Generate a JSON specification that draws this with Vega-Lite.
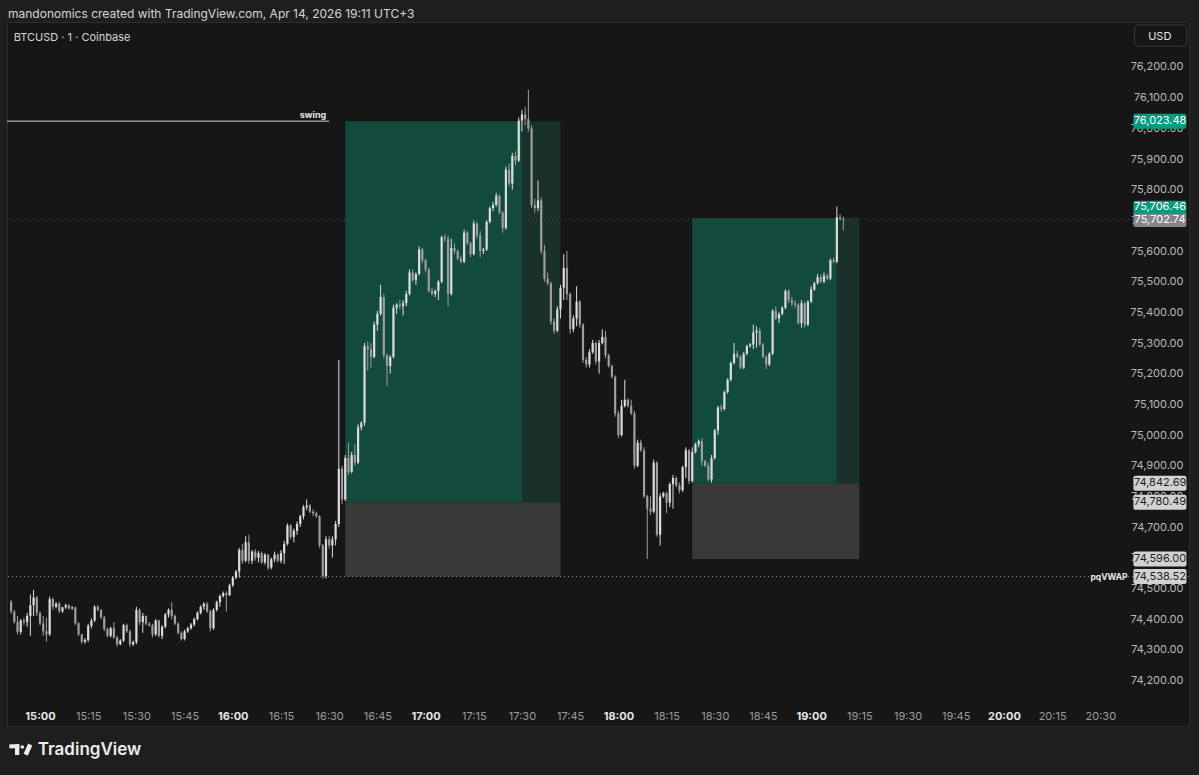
{
  "$schema": "https://vega.github.io/schema/vega-lite/v6.json",
  "width": 1182,
  "height": 704,
  "autosize": {"type": "none"},
  "padding": {"left": 7, "top": 22, "right": 10, "bottom": 49},
  "background": "#1e1e1e",
  "config": {
    "view": {"fill": "#161616", "stroke": "#2c2c2c", "strokeWidth": 1},
    "font": "Inter",
    "text": {"font": "Inter"},
    "axis": {"labelOverlap": false, "labelSeparation": 0},
    "scale": {"continuousPadding": 0}
  },
  "resolve": {"axis": {"y": "independent", "x": "independent"}},
  "title": {"text": "mandonomics created with TradingView.com, Apr 14, 2026 19:11 UTC+3", "anchor": "start", "frame": "group", "offset": 1, "dx": 1, "fontSize": 12, "fontWeight": "normal", "color": "#d6d6d6", "font": "Inter"},
  "datasets": {
    "candles": [
      {"t":-9,"o":74456,"h":74462,"l":74418,"c":74424},
      {"t":-8,"o":74424,"h":74430,"l":74385,"c":74391},
      {"t":-7,"o":74391,"h":74410,"l":74350,"c":74358},
      {"t":-6,"o":74358,"h":74400,"l":74350,"c":74395},
      {"t":-5,"o":74395,"h":74405,"l":74380,"c":74390},
      {"t":-4,"o":74390,"h":74420,"l":74375,"c":74410},
      {"t":-3,"o":74410,"h":74480,"l":74345,"c":74445},
      {"t":-2,"o":74445,"h":74495,"l":74410,"c":74470},
      {"t":-1,"o":74470,"h":74475,"l":74410,"c":74420},
      {"t":0,"o":74420,"h":74425,"l":74380,"c":74386},
      {"t":1,"o":74386,"h":74410,"l":74345,"c":74360},
      {"t":2,"o":74360,"h":74405,"l":74326,"c":74350},
      {"t":3,"o":74350,"h":74473,"l":74345,"c":74465},
      {"t":4,"o":74465,"h":74470,"l":74430,"c":74440},
      {"t":5,"o":74440,"h":74455,"l":74435,"c":74450},
      {"t":6,"o":74450,"h":74456,"l":74420,"c":74425},
      {"t":7,"o":74425,"h":74440,"l":74420,"c":74438},
      {"t":8,"o":74438,"h":74450,"l":74433,"c":74445},
      {"t":9,"o":74445,"h":74448,"l":74430,"c":74435},
      {"t":10,"o":74435,"h":74442,"l":74430,"c":74438},
      {"t":11,"o":74438,"h":74440,"l":74380,"c":74386},
      {"t":12,"o":74386,"h":74390,"l":74345,"c":74350},
      {"t":13,"o":74350,"h":74352,"l":74320,"c":74326},
      {"t":14,"o":74326,"h":74338,"l":74320,"c":74332},
      {"t":15,"o":74332,"h":74385,"l":74325,"c":74378},
      {"t":16,"o":74378,"h":74402,"l":74370,"c":74395},
      {"t":17,"o":74395,"h":74445,"l":74390,"c":74440},
      {"t":18,"o":74440,"h":74445,"l":74425,"c":74430},
      {"t":19,"o":74430,"h":74432,"l":74400,"c":74405},
      {"t":20,"o":74405,"h":74410,"l":74360,"c":74368},
      {"t":21,"o":74368,"h":74372,"l":74340,"c":74345},
      {"t":22,"o":74345,"h":74375,"l":74340,"c":74370},
      {"t":23,"o":74370,"h":74390,"l":74335,"c":74340},
      {"t":24,"o":74340,"h":74345,"l":74310,"c":74318},
      {"t":25,"o":74318,"h":74335,"l":74315,"c":74330},
      {"t":26,"o":74330,"h":74385,"l":74325,"c":74380},
      {"t":27,"o":74380,"h":74385,"l":74355,"c":74360},
      {"t":28,"o":74360,"h":74365,"l":74310,"c":74318},
      {"t":29,"o":74318,"h":74330,"l":74312,"c":74325},
      {"t":30,"o":74325,"h":74440,"l":74318,"c":74430},
      {"t":31,"o":74430,"h":74435,"l":74380,"c":74390},
      {"t":32,"o":74390,"h":74420,"l":74355,"c":74410},
      {"t":33,"o":74410,"h":74412,"l":74380,"c":74385},
      {"t":34,"o":74385,"h":74390,"l":74375,"c":74380},
      {"t":35,"o":74380,"h":74385,"l":74340,"c":74350},
      {"t":36,"o":74350,"h":74400,"l":74345,"c":74395},
      {"t":37,"o":74395,"h":74398,"l":74340,"c":74345},
      {"t":38,"o":74345,"h":74380,"l":74335,"c":74375},
      {"t":39,"o":74375,"h":74420,"l":74370,"c":74415},
      {"t":40,"o":74415,"h":74435,"l":74405,"c":74430},
      {"t":41,"o":74430,"h":74455,"l":74400,"c":74410},
      {"t":42,"o":74410,"h":74415,"l":74380,"c":74385},
      {"t":43,"o":74385,"h":74390,"l":74350,"c":74355},
      {"t":44,"o":74355,"h":74360,"l":74330,"c":74335},
      {"t":45,"o":74335,"h":74365,"l":74330,"c":74360},
      {"t":46,"o":74360,"h":74375,"l":74355,"c":74370},
      {"t":47,"o":74370,"h":74387,"l":74365,"c":74382},
      {"t":48,"o":74382,"h":74405,"l":74376,"c":74400},
      {"t":49,"o":74400,"h":74425,"l":74395,"c":74420},
      {"t":50,"o":74420,"h":74445,"l":74415,"c":74440},
      {"t":51,"o":74440,"h":74455,"l":74430,"c":74450},
      {"t":52,"o":74450,"h":74455,"l":74420,"c":74425},
      {"t":53,"o":74425,"h":74430,"l":74360,"c":74370},
      {"t":54,"o":74370,"h":74435,"l":74365,"c":74430},
      {"t":55,"o":74430,"h":74460,"l":74425,"c":74455},
      {"t":56,"o":74455,"h":74480,"l":74440,"c":74475},
      {"t":57,"o":74475,"h":74490,"l":74470,"c":74485},
      {"t":58,"o":74485,"h":74490,"l":74425,"c":74478},
      {"t":59,"o":74478,"h":74515,"l":74475,"c":74510},
      {"t":60,"o":74510,"h":74540,"l":74505,"c":74535},
      {"t":61,"o":74535,"h":74560,"l":74530,"c":74555},
      {"t":62,"o":74555,"h":74632,"l":74535,"c":74625},
      {"t":63,"o":74625,"h":74645,"l":74580,"c":74590},
      {"t":64,"o":74590,"h":74670,"l":74585,"c":74650},
      {"t":65,"o":74650,"h":74675,"l":74580,"c":74590},
      {"t":66,"o":74590,"h":74625,"l":74580,"c":74620},
      {"t":67,"o":74620,"h":74628,"l":74590,"c":74600},
      {"t":68,"o":74600,"h":74622,"l":74585,"c":74615},
      {"t":69,"o":74615,"h":74620,"l":74580,"c":74585},
      {"t":70,"o":74585,"h":74615,"l":74578,"c":74610},
      {"t":71,"o":74610,"h":74612,"l":74560,"c":74568},
      {"t":72,"o":74568,"h":74600,"l":74562,"c":74595},
      {"t":73,"o":74595,"h":74620,"l":74585,"c":74610},
      {"t":74,"o":74610,"h":74615,"l":74585,"c":74590},
      {"t":75,"o":74590,"h":74625,"l":74582,"c":74615},
      {"t":76,"o":74615,"h":74655,"l":74580,"c":74645},
      {"t":77,"o":74645,"h":74712,"l":74640,"c":74705},
      {"t":78,"o":74705,"h":74710,"l":74660,"c":74668},
      {"t":79,"o":74668,"h":74695,"l":74650,"c":74688},
      {"t":80,"o":74688,"h":74718,"l":74675,"c":74710},
      {"t":81,"o":74710,"h":74740,"l":74700,"c":74735},
      {"t":82,"o":74735,"h":74772,"l":74725,"c":74765},
      {"t":83,"o":74765,"h":74790,"l":74755,"c":74770},
      {"t":84,"o":74770,"h":74775,"l":74745,"c":74750},
      {"t":85,"o":74750,"h":74758,"l":74735,"c":74745},
      {"t":86,"o":74745,"h":74750,"l":74730,"c":74735},
      {"t":87,"o":74735,"h":74738,"l":74632,"c":74640},
      {"t":88,"o":74640,"h":74645,"l":74532,"c":74540},
      {"t":89,"o":74540,"h":74670,"l":74532,"c":74660},
      {"t":90,"o":74660,"h":74670,"l":74630,"c":74640},
      {"t":91,"o":74640,"h":74670,"l":74600,"c":74660},
      {"t":92,"o":74660,"h":74720,"l":74640,"c":74710},
      {"t":93,"o":74710,"h":75245,"l":74700,"c":74890},
      {"t":94,"o":74890,"h":74900,"l":74775,"c":74790},
      {"t":95,"o":74790,"h":74935,"l":74785,"c":74925},
      {"t":96,"o":74925,"h":74975,"l":74870,"c":74880},
      {"t":97,"o":74880,"h":74945,"l":74875,"c":74935},
      {"t":98,"o":74935,"h":74970,"l":74900,"c":74910},
      {"t":99,"o":74910,"h":75035,"l":74905,"c":75025},
      {"t":100,"o":75025,"h":75045,"l":75015,"c":75040},
      {"t":101,"o":75040,"h":75300,"l":75030,"c":75290},
      {"t":102,"o":75290,"h":75305,"l":75210,"c":75280},
      {"t":103,"o":75280,"h":75300,"l":75220,"c":75255},
      {"t":104,"o":75255,"h":75370,"l":75250,"c":75360},
      {"t":105,"o":75360,"h":75405,"l":75340,"c":75395},
      {"t":106,"o":75395,"h":75490,"l":75390,"c":75450},
      {"t":107,"o":75450,"h":75460,"l":75250,"c":75260},
      {"t":108,"o":75260,"h":75265,"l":75160,"c":75225},
      {"t":109,"o":75225,"h":75260,"l":75200,"c":75255},
      {"t":110,"o":75255,"h":75425,"l":75250,"c":75415},
      {"t":111,"o":75415,"h":75430,"l":75395,"c":75425},
      {"t":112,"o":75425,"h":75440,"l":75410,"c":75420},
      {"t":113,"o":75420,"h":75440,"l":75390,"c":75430},
      {"t":114,"o":75430,"h":75470,"l":75420,"c":75460},
      {"t":115,"o":75460,"h":75540,"l":75455,"c":75530},
      {"t":116,"o":75530,"h":75540,"l":75500,"c":75505},
      {"t":117,"o":75505,"h":75530,"l":75490,"c":75525},
      {"t":118,"o":75525,"h":75615,"l":75520,"c":75605},
      {"t":119,"o":75605,"h":75610,"l":75560,"c":75570},
      {"t":120,"o":75570,"h":75575,"l":75530,"c":75540},
      {"t":121,"o":75540,"h":75545,"l":75465,"c":75470},
      {"t":122,"o":75470,"h":75480,"l":75455,"c":75460},
      {"t":123,"o":75460,"h":75475,"l":75450,"c":75470},
      {"t":124,"o":75470,"h":75505,"l":75440,"c":75500},
      {"t":125,"o":75500,"h":75650,"l":75495,"c":75645},
      {"t":126,"o":75645,"h":75655,"l":75630,"c":75640},
      {"t":127,"o":75640,"h":75650,"l":75420,"c":75460},
      {"t":128,"o":75460,"h":75640,"l":75455,"c":75610},
      {"t":129,"o":75610,"h":75625,"l":75590,"c":75600},
      {"t":130,"o":75600,"h":75605,"l":75570,"c":75575},
      {"t":131,"o":75575,"h":75585,"l":75560,"c":75565},
      {"t":132,"o":75565,"h":75670,"l":75560,"c":75660},
      {"t":133,"o":75660,"h":75665,"l":75620,"c":75625},
      {"t":134,"o":75625,"h":75630,"l":75580,"c":75590},
      {"t":135,"o":75590,"h":75700,"l":75585,"c":75690},
      {"t":136,"o":75690,"h":75695,"l":75640,"c":75650},
      {"t":137,"o":75650,"h":75665,"l":75580,"c":75600},
      {"t":138,"o":75600,"h":75610,"l":75590,"c":75605},
      {"t":139,"o":75605,"h":75700,"l":75600,"c":75695},
      {"t":140,"o":75695,"h":75745,"l":75690,"c":75740},
      {"t":141,"o":75740,"h":75760,"l":75730,"c":75750},
      {"t":142,"o":75750,"h":75790,"l":75745,"c":75780},
      {"t":143,"o":75780,"h":75785,"l":75720,"c":75725},
      {"t":144,"o":75725,"h":75730,"l":75660,"c":75675},
      {"t":145,"o":75675,"h":75875,"l":75670,"c":75865},
      {"t":146,"o":75865,"h":75885,"l":75810,"c":75820},
      {"t":147,"o":75820,"h":75920,"l":75800,"c":75910},
      {"t":148,"o":75910,"h":75925,"l":75880,"c":75895},
      {"t":149,"o":75895,"h":76035,"l":75890,"c":76025},
      {"t":150,"o":76025,"h":76060,"l":75990,"c":76045},
      {"t":151,"o":76045,"h":76070,"l":76010,"c":76030},
      {"t":152,"o":76030,"h":76125,"l":75990,"c":76000},
      {"t":153,"o":76000,"h":76010,"l":75740,"c":75750},
      {"t":154,"o":75750,"h":75770,"l":75725,"c":75740},
      {"t":155,"o":75740,"h":75830,"l":75730,"c":75765},
      {"t":156,"o":75765,"h":75775,"l":75590,"c":75600},
      {"t":157,"o":75600,"h":75620,"l":75500,"c":75510},
      {"t":158,"o":75510,"h":75530,"l":75490,"c":75495},
      {"t":159,"o":75495,"h":75500,"l":75360,"c":75370},
      {"t":160,"o":75370,"h":75380,"l":75330,"c":75340},
      {"t":161,"o":75340,"h":75420,"l":75335,"c":75410},
      {"t":162,"o":75410,"h":75490,"l":75380,"c":75480},
      {"t":163,"o":75480,"h":75590,"l":75440,"c":75545},
      {"t":164,"o":75545,"h":75600,"l":75440,"c":75460},
      {"t":165,"o":75460,"h":75465,"l":75330,"c":75345},
      {"t":166,"o":75345,"h":75390,"l":75335,"c":75380},
      {"t":167,"o":75380,"h":75485,"l":75355,"c":75435},
      {"t":168,"o":75435,"h":75440,"l":75350,"c":75360},
      {"t":169,"o":75360,"h":75365,"l":75235,"c":75245},
      {"t":170,"o":75245,"h":75255,"l":75220,"c":75230},
      {"t":171,"o":75230,"h":75280,"l":75220,"c":75270},
      {"t":172,"o":75270,"h":75310,"l":75265,"c":75300},
      {"t":173,"o":75300,"h":75305,"l":75230,"c":75240},
      {"t":174,"o":75240,"h":75310,"l":75200,"c":75300},
      {"t":175,"o":75300,"h":75345,"l":75295,"c":75320},
      {"t":176,"o":75320,"h":75340,"l":75250,"c":75260},
      {"t":177,"o":75260,"h":75265,"l":75220,"c":75225},
      {"t":178,"o":75225,"h":75230,"l":75185,"c":75190},
      {"t":179,"o":75190,"h":75195,"l":75060,"c":75070},
      {"t":180,"o":75070,"h":75080,"l":74990,"c":75000},
      {"t":181,"o":75000,"h":75115,"l":74995,"c":75095},
      {"t":182,"o":75095,"h":75180,"l":75090,"c":75115},
      {"t":183,"o":75115,"h":75120,"l":75090,"c":75095},
      {"t":184,"o":75095,"h":75115,"l":75065,"c":75070},
      {"t":185,"o":75070,"h":75080,"l":74890,"c":74900},
      {"t":186,"o":74900,"h":74985,"l":74895,"c":74975},
      {"t":187,"o":74975,"h":74985,"l":74945,"c":74950},
      {"t":188,"o":74950,"h":74960,"l":74795,"c":74800},
      {"t":189,"o":74800,"h":74805,"l":74596,"c":74760},
      {"t":190,"o":74760,"h":74800,"l":74740,"c":74750},
      {"t":191,"o":74750,"h":74920,"l":74745,"c":74910},
      {"t":192,"o":74910,"h":74915,"l":74668,"c":74675},
      {"t":193,"o":74675,"h":74810,"l":74640,"c":74800},
      {"t":194,"o":74800,"h":74815,"l":74795,"c":74810},
      {"t":195,"o":74810,"h":74815,"l":74745,"c":74780},
      {"t":196,"o":74780,"h":74845,"l":74765,"c":74840},
      {"t":197,"o":74840,"h":74870,"l":74760,"c":74860},
      {"t":198,"o":74860,"h":74865,"l":74830,"c":74835},
      {"t":199,"o":74835,"h":74845,"l":74810,"c":74820},
      {"t":200,"o":74820,"h":74900,"l":74815,"c":74895},
      {"t":201,"o":74895,"h":74960,"l":74860,"c":74950},
      {"t":202,"o":74950,"h":74955,"l":74840,"c":74850},
      {"t":203,"o":74850,"h":74960,"l":74845,"c":74945},
      {"t":204,"o":74945,"h":74975,"l":74940,"c":74970},
      {"t":205,"o":74970,"h":74985,"l":74960,"c":74980},
      {"t":206,"o":74980,"h":74990,"l":74900,"c":74915},
      {"t":207,"o":74915,"h":74920,"l":74895,"c":74900},
      {"t":208,"o":74900,"h":74910,"l":74850,"c":74855},
      {"t":209,"o":74855,"h":74935,"l":74845,"c":74925},
      {"t":210,"o":74925,"h":75020,"l":74920,"c":75015},
      {"t":211,"o":75015,"h":75095,"l":75000,"c":75090},
      {"t":212,"o":75090,"h":75100,"l":75075,"c":75085},
      {"t":213,"o":75085,"h":75145,"l":75080,"c":75140},
      {"t":214,"o":75140,"h":75185,"l":75135,"c":75180},
      {"t":215,"o":75180,"h":75240,"l":75175,"c":75235},
      {"t":216,"o":75235,"h":75300,"l":75230,"c":75265},
      {"t":217,"o":75265,"h":75275,"l":75250,"c":75255},
      {"t":218,"o":75255,"h":75260,"l":75215,"c":75220},
      {"t":219,"o":75220,"h":75270,"l":75215,"c":75265},
      {"t":220,"o":75265,"h":75295,"l":75260,"c":75290},
      {"t":221,"o":75290,"h":75300,"l":75285,"c":75295},
      {"t":222,"o":75295,"h":75360,"l":75280,"c":75335},
      {"t":223,"o":75335,"h":75355,"l":75285,"c":75340},
      {"t":224,"o":75340,"h":75350,"l":75290,"c":75295},
      {"t":225,"o":75295,"h":75300,"l":75250,"c":75255},
      {"t":226,"o":75255,"h":75260,"l":75215,"c":75230},
      {"t":227,"o":75230,"h":75270,"l":75225,"c":75265},
      {"t":228,"o":75265,"h":75410,"l":75260,"c":75405},
      {"t":229,"o":75405,"h":75420,"l":75375,"c":75380},
      {"t":230,"o":75380,"h":75400,"l":75365,"c":75395},
      {"t":231,"o":75395,"h":75420,"l":75390,"c":75415},
      {"t":232,"o":75415,"h":75475,"l":75410,"c":75470},
      {"t":233,"o":75470,"h":75475,"l":75430,"c":75440},
      {"t":234,"o":75440,"h":75450,"l":75420,"c":75430},
      {"t":235,"o":75430,"h":75440,"l":75415,"c":75425},
      {"t":236,"o":75425,"h":75430,"l":75360,"c":75365},
      {"t":237,"o":75365,"h":75440,"l":75350,"c":75430},
      {"t":238,"o":75430,"h":75435,"l":75350,"c":75360},
      {"t":239,"o":75360,"h":75440,"l":75355,"c":75435},
      {"t":240,"o":75435,"h":75485,"l":75430,"c":75475},
      {"t":241,"o":75475,"h":75500,"l":75470,"c":75495},
      {"t":242,"o":75495,"h":75525,"l":75490,"c":75515},
      {"t":243,"o":75515,"h":75525,"l":75495,"c":75500},
      {"t":244,"o":75500,"h":75530,"l":75495,"c":75520},
      {"t":245,"o":75520,"h":75525,"l":75505,"c":75510},
      {"t":246,"o":75510,"h":75575,"l":75505,"c":75570},
      {"t":247,"o":75570,"h":75578,"l":75560,"c":75565},
      {"t":248,"o":75565,"h":75745,"l":75560,"c":75710},
      {"t":249,"o":75710,"h":75720,"l":75700,"c":75705},
      {"t":250,"o":75705,"h":75712,"l":75668,"c":75702.74}
    ],
    "positions": [
      {"start": 95, "fade": 150, "end": 162, "entry": 74780.49, "target": 76023.48, "stop": 74538.52},
      {"start": 203, "fade": 248, "end": 255, "entry": 74842.69, "target": 75706.46, "stop": 74596}
    ],
    "levels": [
      {"name": "pqVWAP", "price": 74538.52},
      {"name": "last", "price": 75702.74}
    ],
    "swing": [{"label": "swing", "level": 76023.48, "from": -10.27, "to": 90}],
    "tags": [
      {"price": 76023.48, "kind": "target"},
      {"price": 75706.46, "kind": "target2"},
      {"price": 75702.74, "kind": "last"},
      {"price": 74842.69, "kind": "level"},
      {"price": 74780.49, "kind": "level"},
      {"price": 74596.00, "kind": "level"},
      {"price": 74538.52, "kind": "level"}
    ]
  },
  "layer": [
    {
      "data": {"name": "positions"},
      "mark": {"type": "rect", "color": "#134a3e"},
      "encoding": {
        "x": {"field": "start", "type": "quantitative",
          "scale": {"domain": [-10.27, 357.6], "nice": false, "zero": false, "padding": 0},
          "axis": {"title": null, "orient": "bottom", "offset": -10, "values": [0,15,30,45,60,75,90,105,120,135,150,165,180,195,210,225,240,255,270,285,300,315,330],
            "labelExpr": "(15 + floor(datum.value / 60)) + ':' + (datum.value % 60 == 0 ? '00' : (datum.value % 60))",
            "domain": false, "ticks": false, "grid": false, "labelPadding": 0, "labelBaseline": "middle", "labelFlush": false, "labelOverlap": false,
            "labelFont": "Inter", "labelFontSize": 11,
            "labelColor": {"condition": {"test": "datum.value % 60 == 0", "value": "#e6e6e6"}, "value": "#9c9c9c"},
            "labelFontWeight": {"condition": {"test": "datum.value % 60 == 0", "value": "bold"}, "value": "normal"}}},
        "x2": {"field": "fade"},
        "y": {"field": "entry", "type": "quantitative",
          "scale": {"domain": [74051.3, 76346.7], "nice": false, "zero": false, "padding": 0},
          "axis": {"title": null, "orient": "right", "offset": -6, "values": [74200,74300,74400,74500,74600,74700,74800,74900,75000,75100,75200,75300,75400,75500,75600,75700,75800,75900,76000,76100,76200],
            "tickCount": 21,
            "format": ",.2f", "domain": false, "ticks": false, "grid": false, "labelPadding": 0, "labelAlign": "right", "labelBaseline": "middle", "labelOverlap": false, "labelFlush": false,
            "labelFont": "Inter", "labelFontSize": 11, "labelColor": "#b9b9b9"}},
        "y2": {"field": "target"}
      }
    },
    {
      "data": {"name": "positions"},
      "mark": {"type": "rect", "color": "#1a302b"},
      "encoding": {
        "x": {"field": "fade", "type": "quantitative", "axis": null},
        "x2": {"field": "end"},
        "y": {"field": "entry", "type": "quantitative", "axis": null},
        "y2": {"field": "target"}
      }
    },
    {
      "data": {"name": "positions"},
      "mark": {"type": "rect", "color": "#393939"},
      "encoding": {
        "x": {"field": "start", "type": "quantitative", "axis": null},
        "x2": {"field": "end"},
        "y": {"field": "stop", "type": "quantitative", "axis": null},
        "y2": {"field": "entry"}
      }
    },
    {
      "data": {"name": "levels"},
      "mark": {"type": "rule", "strokeDash": [1, 3], "strokeWidth": 1},
      "encoding": {
        "y": {"field": "price", "type": "quantitative", "axis": null},
        "color": {"condition": {"test": "datum.name == 'pqVWAP'", "value": "#8a8a8a"}, "value": "#4c4c4c"}
      }
    },
    {
      "data": {"name": "swing"},
      "mark": {"type": "rule", "color": "#d6d6d6", "strokeWidth": 1},
      "encoding": {
        "x": {"field": "from", "type": "quantitative", "axis": null},
        "x2": {"field": "to"},
        "y": {"field": "level", "type": "quantitative", "axis": null}
      }
    },
    {
      "data": {"name": "swing"},
      "mark": {"type": "text", "align": "right", "baseline": "bottom", "dx": -3, "dy": -1, "fontSize": 9, "fontWeight": "bold", "color": "#e6e6e6"},
      "encoding": {
        "x": {"field": "to", "type": "quantitative", "axis": null},
        "y": {"field": "level", "type": "quantitative", "axis": null},
        "text": {"field": "label"}
      }
    },
    {
      "data": {"name": "candles"},
      "mark": {"type": "rule", "strokeWidth": 1},
      "encoding": {
        "x": {"field": "t", "type": "quantitative", "axis": null},
        "y": {"field": "l", "type": "quantitative", "axis": null},
        "y2": {"field": "h"},
        "color": {"condition": {"test": "datum.c >= datum.o", "value": "#dcdcdc"}, "value": "#9e9e9e"}
      }
    },
    {
      "data": {"name": "candles"},
      "mark": {"type": "bar", "size": 2.2},
      "encoding": {
        "x": {"field": "t", "type": "quantitative", "axis": null},
        "y": {"field": "o", "type": "quantitative", "axis": null},
        "y2": {"field": "c"},
        "color": {"condition": {"test": "datum.c >= datum.o", "value": "#dcdcdc"}, "value": "#9e9e9e"}
      }
    },
    {
      "data": {"name": "levels"},
      "transform": [{"filter": "datum.name == 'pqVWAP'"}],
      "mark": {"type": "text", "align": "right", "baseline": "middle", "fontSize": 8.5, "fontWeight": "bold", "color": "#e6e6e6"},
      "encoding": {
        "x": {"datum": 338.5, "type": "quantitative", "axis": null},
        "y": {"field": "price", "type": "quantitative", "axis": null},
        "text": {"field": "name"}
      }
    },
    {
      "data": {"values": [{"label": "BTCUSD · 1 · Coinbase"}]},
      "mark": {"type": "text", "align": "left", "baseline": "middle", "fontSize": 11, "color": "#d6d6d6"},
      "encoding": {
        "x": {"datum": -8.2, "type": "quantitative", "axis": null},
        "y": {"datum": 76295, "type": "quantitative", "axis": null},
        "text": {"field": "label"}
      }
    },
    {
      "data": {"values": [{"label": "USD"}]},
      "mark": {"type": "rect", "fill": "#161616", "stroke": "#3c3c3c", "strokeWidth": 1, "cornerRadius": 4},
      "encoding": {
        "x": {"datum": 340.6, "type": "quantitative", "axis": null},
        "x2": {"datum": 357.0},
        "y": {"datum": 76268, "type": "quantitative", "axis": null},
        "y2": {"datum": 76337}
      }
    },
    {
      "data": {"values": [{"label": "USD"}]},
      "mark": {"type": "text", "align": "center", "baseline": "middle", "fontSize": 11, "color": "#e6e6e6"},
      "encoding": {
        "x": {"datum": 348.5, "type": "quantitative", "axis": null},
        "y": {"datum": 76297, "type": "quantitative", "axis": null},
        "text": {"field": "label"}
      }
    },
    {
      "data": {"values": [{"part": "bar", "x1": -9.55, "x2": -6.44, "y1": 73978.6, "y2": 73991.7}, {"part": "stem", "x1": -7.78, "x2": -6.44, "y1": 73956.8, "y2": 73991.7}]},
      "mark": {"type": "rect", "color": "#ececec"},
      "encoding": {
        "x": {"field": "x1", "type": "quantitative", "axis": null},
        "x2": {"field": "x2"},
        "y": {"field": "y1", "type": "quantitative", "axis": null},
        "y2": {"field": "y2"}
      }
    },
    {
      "data": {"values": [{"part": "dot"}]},
      "mark": {"type": "circle", "size": 13, "opacity": 1, "color": "#ececec"},
      "encoding": {
        "x": {"datum": -5.5, "type": "quantitative", "axis": null},
        "y": {"datum": 73983, "type": "quantitative", "axis": null}
      }
    },
    {
      "data": {"values": [{"part": "slash"}]},
      "mark": {"type": "rule", "strokeWidth": 4.5, "color": "#ececec"},
      "encoding": {
        "x": {"datum": -3.05, "type": "quantitative", "axis": null},
        "x2": {"datum": -4.45},
        "y": {"datum": 73991.0, "type": "quantitative", "axis": null},
        "y2": {"datum": 73957.5}
      }
    },
    {
      "data": {"values": [{"label": "TradingView"}]},
      "mark": {"type": "text", "align": "left", "baseline": "middle", "fontSize": 17, "fontWeight": 600, "color": "#ececec"},
      "encoding": {
        "x": {"datum": -0.7, "type": "quantitative", "axis": null},
        "y": {"datum": 73973, "type": "quantitative", "axis": null},
        "text": {"field": "label"}
      }
    },
    {
      "data": {"name": "tags"},
      "transform": [{"filter": "datum.kind != 'target2'"}],
      "mark": {"type": "bar", "size": 15, "cornerRadius": 2},
      "encoding": {
        "x": {"datum": 340.3, "type": "quantitative", "axis": null},
        "x2": {"datum": 356.8},
        "y": {"field": "price", "type": "quantitative", "axis": null},
        "color": {"condition": [{"test": "datum.kind == 'target'", "value": "#089981"}, {"test": "datum.kind == 'last'", "value": "#85858a"}], "value": "#d2d2d2"}
      }
    },
    {
      "data": {"name": "tags"},
      "transform": [{"filter": "datum.kind != 'target2'"}],
      "mark": {"type": "text", "align": "center", "baseline": "middle", "fontSize": 11},
      "encoding": {
        "x": {"datum": 348.6, "type": "quantitative", "axis": null},
        "y": {"field": "price", "type": "quantitative", "axis": null},
        "text": {"field": "price", "format": ",.2f"},
        "color": {"condition": {"test": "datum.kind == 'level'", "value": "#1e1e1e"}, "value": "#ffffff"}
      }
    },
    {
      "data": {"name": "tags"},
      "transform": [{"filter": "datum.kind == 'target2'"}],
      "mark": {"type": "bar", "size": 13, "cornerRadius": 2, "yOffset": -11, "color": "#089981"},
      "encoding": {
        "x": {"datum": 340.3, "type": "quantitative", "axis": null},
        "x2": {"datum": 356.8},
        "y": {"field": "price", "type": "quantitative", "axis": null}
      }
    },
    {
      "data": {"name": "tags"},
      "transform": [{"filter": "datum.kind == 'target2'"}],
      "mark": {"type": "text", "align": "center", "baseline": "middle", "fontSize": 11, "yOffset": -11, "color": "#ffffff"},
      "encoding": {
        "x": {"datum": 348.6, "type": "quantitative", "axis": null},
        "y": {"field": "price", "type": "quantitative", "axis": null},
        "text": {"field": "price", "format": ",.2f"}
      }
    }
  ]
}
